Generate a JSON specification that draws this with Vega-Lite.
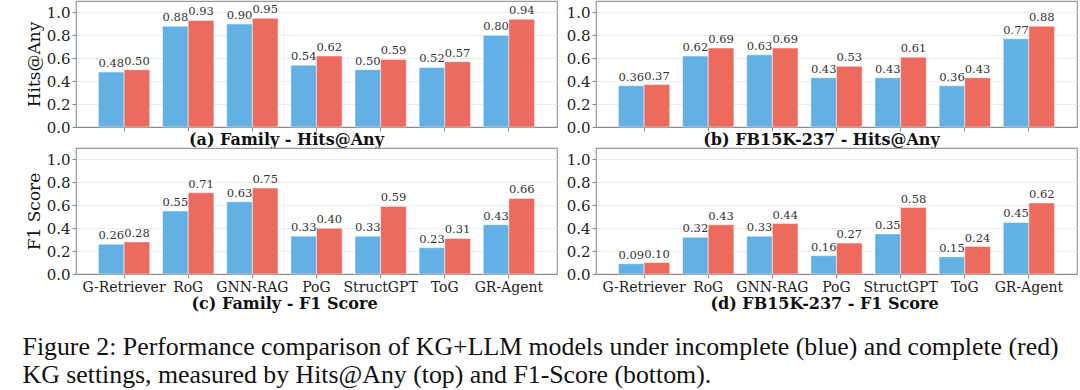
{
  "$schema": "https://vega.github.io/schema/vega-lite/v6.json",
  "padding": {"left": 22, "top": 0, "right": 5, "bottom": 0},
  "background": "white",
  "data": {"values": [
    {"panel": "a", "model": "G-Retriever", "setting": "Incomplete", "value": 0.48},
    {"panel": "a", "model": "G-Retriever", "setting": "Complete", "value": 0.50},
    {"panel": "a", "model": "RoG", "setting": "Incomplete", "value": 0.88},
    {"panel": "a", "model": "RoG", "setting": "Complete", "value": 0.93},
    {"panel": "a", "model": "GNN-RAG", "setting": "Incomplete", "value": 0.90},
    {"panel": "a", "model": "GNN-RAG", "setting": "Complete", "value": 0.95},
    {"panel": "a", "model": "PoG", "setting": "Incomplete", "value": 0.54},
    {"panel": "a", "model": "PoG", "setting": "Complete", "value": 0.62},
    {"panel": "a", "model": "StructGPT", "setting": "Incomplete", "value": 0.50},
    {"panel": "a", "model": "StructGPT", "setting": "Complete", "value": 0.59},
    {"panel": "a", "model": "ToG", "setting": "Incomplete", "value": 0.52},
    {"panel": "a", "model": "ToG", "setting": "Complete", "value": 0.57},
    {"panel": "a", "model": "GR-Agent", "setting": "Incomplete", "value": 0.80},
    {"panel": "a", "model": "GR-Agent", "setting": "Complete", "value": 0.94},
    {"panel": "b", "model": "G-Retriever", "setting": "Incomplete", "value": 0.36},
    {"panel": "b", "model": "G-Retriever", "setting": "Complete", "value": 0.37},
    {"panel": "b", "model": "RoG", "setting": "Incomplete", "value": 0.62},
    {"panel": "b", "model": "RoG", "setting": "Complete", "value": 0.69},
    {"panel": "b", "model": "GNN-RAG", "setting": "Incomplete", "value": 0.63},
    {"panel": "b", "model": "GNN-RAG", "setting": "Complete", "value": 0.69},
    {"panel": "b", "model": "PoG", "setting": "Incomplete", "value": 0.43},
    {"panel": "b", "model": "PoG", "setting": "Complete", "value": 0.53},
    {"panel": "b", "model": "StructGPT", "setting": "Incomplete", "value": 0.43},
    {"panel": "b", "model": "StructGPT", "setting": "Complete", "value": 0.61},
    {"panel": "b", "model": "ToG", "setting": "Incomplete", "value": 0.36},
    {"panel": "b", "model": "ToG", "setting": "Complete", "value": 0.43},
    {"panel": "b", "model": "GR-Agent", "setting": "Incomplete", "value": 0.77},
    {"panel": "b", "model": "GR-Agent", "setting": "Complete", "value": 0.88},
    {"panel": "c", "model": "G-Retriever", "setting": "Incomplete", "value": 0.26},
    {"panel": "c", "model": "G-Retriever", "setting": "Complete", "value": 0.28},
    {"panel": "c", "model": "RoG", "setting": "Incomplete", "value": 0.55},
    {"panel": "c", "model": "RoG", "setting": "Complete", "value": 0.71},
    {"panel": "c", "model": "GNN-RAG", "setting": "Incomplete", "value": 0.63},
    {"panel": "c", "model": "GNN-RAG", "setting": "Complete", "value": 0.75},
    {"panel": "c", "model": "PoG", "setting": "Incomplete", "value": 0.33},
    {"panel": "c", "model": "PoG", "setting": "Complete", "value": 0.40},
    {"panel": "c", "model": "StructGPT", "setting": "Incomplete", "value": 0.33},
    {"panel": "c", "model": "StructGPT", "setting": "Complete", "value": 0.59},
    {"panel": "c", "model": "ToG", "setting": "Incomplete", "value": 0.23},
    {"panel": "c", "model": "ToG", "setting": "Complete", "value": 0.31},
    {"panel": "c", "model": "GR-Agent", "setting": "Incomplete", "value": 0.43},
    {"panel": "c", "model": "GR-Agent", "setting": "Complete", "value": 0.66},
    {"panel": "d", "model": "G-Retriever", "setting": "Incomplete", "value": 0.09},
    {"panel": "d", "model": "G-Retriever", "setting": "Complete", "value": 0.10},
    {"panel": "d", "model": "RoG", "setting": "Incomplete", "value": 0.32},
    {"panel": "d", "model": "RoG", "setting": "Complete", "value": 0.43},
    {"panel": "d", "model": "GNN-RAG", "setting": "Incomplete", "value": 0.33},
    {"panel": "d", "model": "GNN-RAG", "setting": "Complete", "value": 0.44},
    {"panel": "d", "model": "PoG", "setting": "Incomplete", "value": 0.16},
    {"panel": "d", "model": "PoG", "setting": "Complete", "value": 0.27},
    {"panel": "d", "model": "StructGPT", "setting": "Incomplete", "value": 0.35},
    {"panel": "d", "model": "StructGPT", "setting": "Complete", "value": 0.58},
    {"panel": "d", "model": "ToG", "setting": "Incomplete", "value": 0.15},
    {"panel": "d", "model": "ToG", "setting": "Complete", "value": 0.24},
    {"panel": "d", "model": "GR-Agent", "setting": "Incomplete", "value": 0.45},
    {"panel": "d", "model": "GR-Agent", "setting": "Complete", "value": 0.62}
  ]},
  "title": {
    "text": ["Figure 2: Performance comparison of KG+LLM models under incomplete (blue) and complete (red)", "KG settings, measured by Hits@Any (top) and F1-Score (bottom)."],
    "orient": "bottom", "anchor": "start", "frame": "bounds",
    "font": "Liberation Serif", "fontSize": 25.8, "fontWeight": "normal", "color": "#111",
    "lineHeight": 28, "offset": 23, "dx": -2
  },
  "columns": 2,
  "bounds": "flush",
  "spacing": {"row": 21, "column": 39},
  "concat": [
    {
      "width": 481, "height": 126,
      "transform": [{"filter": "datum.panel === 'a'"}],
      "encoding": {
        "x": {"field": "model", "type": "nominal", "sort": ["G-Retriever", "RoG", "GNN-RAG", "PoG", "StructGPT", "ToG", "GR-Agent"],
              "scale": {"paddingInner": 0.2, "paddingOuter": 0.35},
              "axis": {"labels": false, "title": "(a) Family - Hits@Any", "titleX": 210, "titleAlign": "center", "titlePadding": 0}},
        "xOffset": {"field": "setting", "type": "nominal", "sort": ["Incomplete", "Complete"], "scale": {"paddingInner": 0, "paddingOuter": 0}},
        "y": {"field": "value", "type": "quantitative", "scale": {"domain": [0, 1.1], "nice": false},
              "axis": {"values": [0, 0.2, 0.4, 0.6, 0.8, 1.0], "format": ".1f", "title": "Hits@Any"}}
      },
      "layer": [
        {"mark": {"type": "bar", "stroke": "white", "strokeWidth": 0.8, "strokeOpacity": 0.6},
         "encoding": {"color": {"field": "setting", "type": "nominal", "scale": {"domain": ["Incomplete", "Complete"], "range": ["#62b0e4", "#ec6b5e"]}, "legend": null}}},
        {"mark": {"type": "text", "baseline": "bottom", "dy": -3, "fontSize": 11.5, "color": "#333"},
         "encoding": {"text": {"field": "value", "type": "quantitative", "format": ".2f"}}}
      ]
    },
    {
      "width": 481, "height": 126,
      "transform": [{"filter": "datum.panel === 'b'"}],
      "encoding": {
        "x": {"field": "model", "type": "nominal", "sort": ["G-Retriever", "RoG", "GNN-RAG", "PoG", "StructGPT", "ToG", "GR-Agent"],
              "scale": {"paddingInner": 0.2, "paddingOuter": 0.35},
              "axis": {"labels": false, "title": "(b) FB15K-237 - Hits@Any", "titleX": 225, "titleAlign": "center", "titlePadding": 0}},
        "xOffset": {"field": "setting", "type": "nominal", "sort": ["Incomplete", "Complete"], "scale": {"paddingInner": 0, "paddingOuter": 0}},
        "y": {"field": "value", "type": "quantitative", "scale": {"domain": [0, 1.1], "nice": false},
              "axis": {"values": [0, 0.2, 0.4, 0.6, 0.8, 1.0], "format": ".1f", "title": null}}
      },
      "layer": [
        {"mark": {"type": "bar", "stroke": "white", "strokeWidth": 0.8, "strokeOpacity": 0.6},
         "encoding": {"color": {"field": "setting", "type": "nominal", "scale": {"domain": ["Incomplete", "Complete"], "range": ["#62b0e4", "#ec6b5e"]}, "legend": null}}},
        {"mark": {"type": "text", "baseline": "bottom", "dy": -3, "fontSize": 11.5, "color": "#333"},
         "encoding": {"text": {"field": "value", "type": "quantitative", "format": ".2f"}}}
      ]
    },
    {
      "width": 481, "height": 126,
      "transform": [{"filter": "datum.panel === 'c'"}],
      "encoding": {
        "x": {"field": "model", "type": "nominal", "sort": ["G-Retriever", "RoG", "GNN-RAG", "PoG", "StructGPT", "ToG", "GR-Agent"],
              "scale": {"paddingInner": 0.2, "paddingOuter": 0.35},
              "axis": {"labelAngle": 0, "title": "(c) Family - F1 Score", "titleX": 208, "titleAlign": "center", "titlePadding": 1}},
        "xOffset": {"field": "setting", "type": "nominal", "sort": ["Incomplete", "Complete"], "scale": {"paddingInner": 0, "paddingOuter": 0}},
        "y": {"field": "value", "type": "quantitative", "scale": {"domain": [0, 1.1], "nice": false},
              "axis": {"values": [0, 0.2, 0.4, 0.6, 0.8, 1.0], "format": ".1f", "title": "F1 Score"}}
      },
      "layer": [
        {"mark": {"type": "bar", "stroke": "white", "strokeWidth": 0.8, "strokeOpacity": 0.6},
         "encoding": {"color": {"field": "setting", "type": "nominal", "scale": {"domain": ["Incomplete", "Complete"], "range": ["#62b0e4", "#ec6b5e"]}, "legend": null}}},
        {"mark": {"type": "text", "baseline": "bottom", "dy": -3, "fontSize": 11.5, "color": "#333"},
         "encoding": {"text": {"field": "value", "type": "quantitative", "format": ".2f"}}}
      ]
    },
    {
      "width": 481, "height": 126,
      "transform": [{"filter": "datum.panel === 'd'"}],
      "encoding": {
        "x": {"field": "model", "type": "nominal", "sort": ["G-Retriever", "RoG", "GNN-RAG", "PoG", "StructGPT", "ToG", "GR-Agent"],
              "scale": {"paddingInner": 0.2, "paddingOuter": 0.35},
              "axis": {"labelAngle": 0, "title": "(d) FB15K-237 - F1 Score", "titleX": 228, "titleAlign": "center", "titlePadding": 1}},
        "xOffset": {"field": "setting", "type": "nominal", "sort": ["Incomplete", "Complete"], "scale": {"paddingInner": 0, "paddingOuter": 0}},
        "y": {"field": "value", "type": "quantitative", "scale": {"domain": [0, 1.1], "nice": false},
              "axis": {"values": [0, 0.2, 0.4, 0.6, 0.8, 1.0], "format": ".1f", "title": null}}
      },
      "layer": [
        {"mark": {"type": "bar", "stroke": "white", "strokeWidth": 0.8, "strokeOpacity": 0.6},
         "encoding": {"color": {"field": "setting", "type": "nominal", "scale": {"domain": ["Incomplete", "Complete"], "range": ["#62b0e4", "#ec6b5e"]}, "legend": null}}},
        {"mark": {"type": "text", "baseline": "bottom", "dy": -3, "fontSize": 11.5, "color": "#333"},
         "encoding": {"text": {"field": "value", "type": "quantitative", "format": ".2f"}}}
      ]
    }
  ],
  "resolve": {"scale": {"x": "independent", "y": "independent", "color": "shared"}},
  "config": {
    "font": "DejaVu Serif",
    "view": {"stroke": "#9a9a9a", "strokeWidth": 1.2},
    "text": {"font": "DejaVu Serif"},
    "axis": {
      "labelFont": "DejaVu Serif", "labelFontSize": 14, "labelColor": "#222", "labelPadding": 2,
      "tickColor": "#888", "tickSize": 4, "domainColor": "#888", "domainWidth": 1.2,
      "titleFont": "DejaVu Serif", "titleColor": "#111", "gridColor": "#ececec"
    },
    "axisY": {"domain": false, "labelFontSize": 15, "titleFontSize": 17, "titleFontWeight": "normal", "titlePadding": 3, "grid": true},
    "axisX": {"titleFontSize": 16, "titleFontWeight": "bold", "grid": false}
  }
}
